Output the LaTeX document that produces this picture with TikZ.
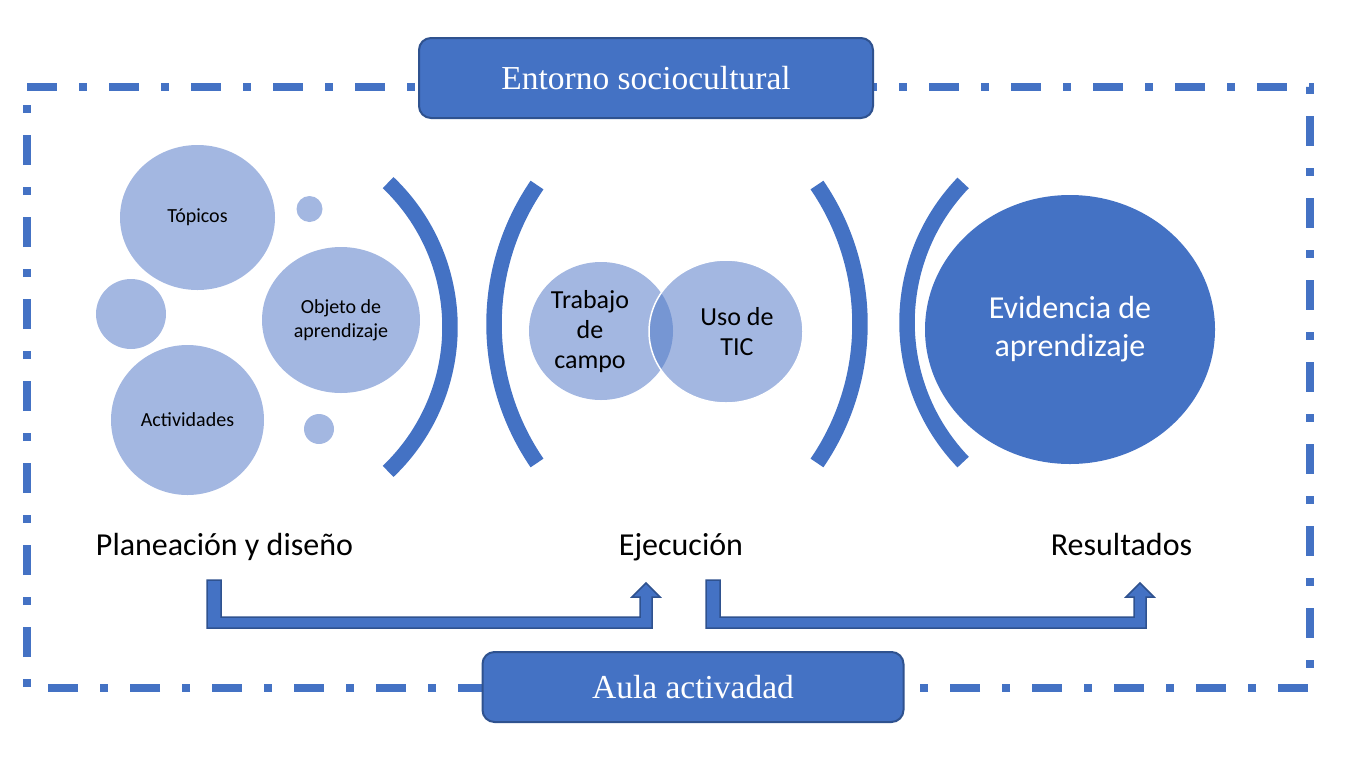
\documentclass[tikz,border=0pt]{standalone}
\usepackage{fontspec}
\setmainfont{Carlito}
\newfontfamily\serifbox{Liberation Serif}
\usetikzlibrary{shapes.geometric, calc}

\definecolor{mainblue}{RGB}{68,114,196}
\definecolor{lightblue}{RGB}{163,183,225}
\definecolor{midblue}{RGB}{118,150,211}
\definecolor{edgeblue}{RGB}{47,82,143}

% #1 top of the bar, #2 tip of the head
\newcommand{\bentarrow}[2]{%
\draw[arrowbody] (#1) -- ($(#1)+(0,48)$) -- ($(#1 -| #2)+(6,48)$) -- ($(#2)+(6,14)$) -- ($(#2)+(14,14)$) -- (#2) -- ($(#2)+(-14,14)$) -- ($(#2)+(-6,14)$) -- ($(#1 -| #2)+(-6,37)$) -- ($(#1)+(14,37)$) -- ($(#1)+(14,0)$) -- cycle;}

% #1 centre, #2 radius, #3 start angle, #4 end angle
\newcommand{\bracketarc}[4]{%
\draw[bracket] (#1) ++(#3:#2pt) arc[start angle=#3, end angle=#4, radius=#2pt];}

\begin{document}
\begin{tikzpicture}[x=1pt, y=-1pt,
bubble/.style={ellipse, fill=lightblue, inner sep=0pt, align=center, font=\fontsize{20}{24}\selectfont},
dot/.style={circle, fill=lightblue, inner sep=0pt},
bracket/.style={mainblue, line width=15.5pt},
banner/.style={rounded corners=12pt, fill=mainblue, draw=edgeblue, line width=2pt, text=white, font=\serifbox\fontsize{33.5}{40}\selectfont},
stage/.style={font=\fontsize{32}{38}\selectfont, anchor=base},
arrowbody/.style={fill=mainblue, draw=edgeblue, line width=1.5pt, line join=miter},
frame/.style={mainblue, line width=8pt, dash pattern=on 30pt off 22pt on 8pt off 22pt}]

\useasboundingbox (0,0) rectangle (1348,766);

\draw[frame] (27,87) -- (1310,87) -- (1310,688) -- (27,688) -- cycle; %frame

% planeacion
\node[bubble, minimum width=155pt, minimum height=145pt] (topicos) at (197.5,217.5) {Tópicos};
\node[bubble, minimum width=158pt, minimum height=146pt] (objeto) at (341,320) {Objeto de\\aprendizaje};
\node[bubble, minimum width=153pt, minimum height=150pt] (actividades) at (187.5,420) {Actividades};
\node[dot, minimum size=70pt] (dotleft) at (131,314) {};
\node[dot, minimum size=26pt] (dottop) at (309.5,209) {};
\node[dot, minimum size=30pt] (dotbottom) at (319,429) {};

% ejecucion
\node[bubble, minimum width=144pt, minimum height=138pt] (trabajo) at (601,331) {};
\node[bubble, minimum width=154pt, minimum height=143pt] (tic) at (726,331.5) {};
\begin{scope}
\clip (trabajo.center) ellipse[x radius=72pt, y radius=69pt];
\fill[midblue] (tic.center) ellipse[x radius=77pt, y radius=71.5pt];
\end{scope}
\draw[white, line width=1.5pt] (tic.center) ellipse[x radius=77pt, y radius=71.5pt];
\node[align=center, font=\fontsize{26}{30}\selectfont] (trabajotext) at (590,332) {Trabajo\\de\\campo};
\node[align=center, font=\fontsize{26}{30}\selectfont] (tictext) at (737,332) {Uso de\\TIC};

% resultados
\node[ellipse, fill=mainblue, inner sep=0pt, minimum width=290pt, minimum height=269pt, align=center, text=white, font=\fontsize{32}{38}\selectfont] (evidencia) at (1070,329.5) {Evidencia de\\aprendizaje};

\coordinate (arcA) at (250.6,327);
\coordinate (arcB) at (740,324);
\coordinate (arcC) at (614,324);
\coordinate (arcD) at (1108.7,322.5);
\bracketarc{arcA}{199.4}{46.4}{-46.4} %)
\bracketarc{arcB}{246}{145.6}{214.4} %(
\bracketarc{arcC}{246}{34.4}{-34.4} %)
\bracketarc{arcD}{201.7}{136.2}{223.8} %(

\node[stage] (planeacion) at (224.5,555) {Planeación y diseño};
\node[stage] (ejecucion) at (681,555) {Ejecución};
\node[stage] (resultados) at (1121.5,555) {Resultados};

\coordinate (barA) at (207,580);
\coordinate (tipA) at (646,583);
\coordinate (barB) at (706,580);
\coordinate (tipB) at (1140,583);
\bentarrow{barA}{tipA}
\bentarrow{barB}{tipB}

\node[banner, minimum width=454pt, minimum height=80pt] (entorno) at (646,78) {Entorno sociocultural};
\node[banner, minimum width=421pt, minimum height=70pt] (aula) at (693,687) {Aula activadad};

\end{tikzpicture}
\end{document}
